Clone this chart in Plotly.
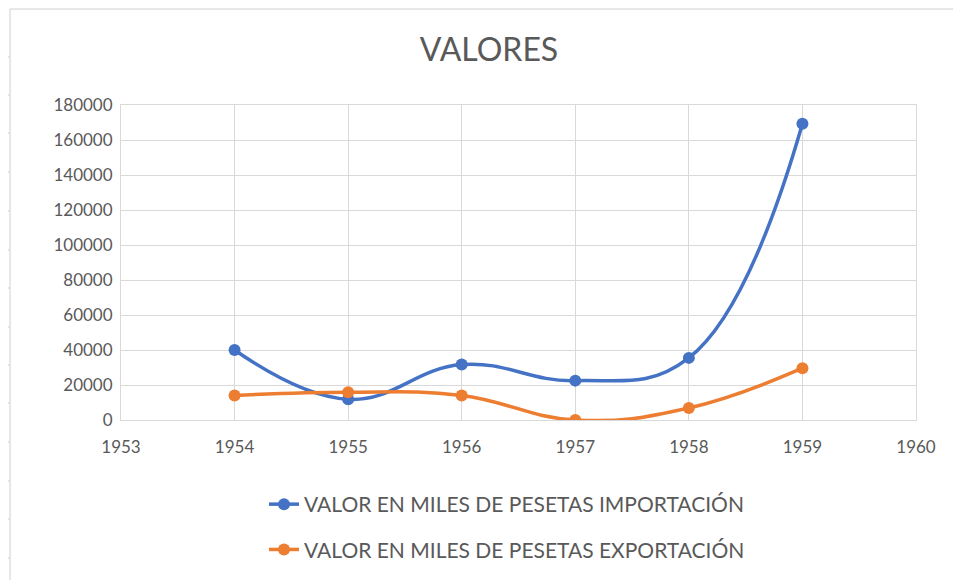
import plotly.graph_objects as go

years = [1954, 1955, 1956, 1957, 1958, 1959]
importacion = [40000, 11800, 31700, 22500, 35500, 169300]
exportacion = [14000, 15900, 14000, 0, 6900, 29600]
series_names = ["VALOR EN MILES DE PESETAS IMPORTACIÓN", "VALOR EN MILES DE PESETAS EXPORTACIÓN"]
x_ticks = [1953, 1954, 1955, 1956, 1957, 1958, 1959, 1960]
y_ticks = [0, 20000, 40000, 60000, 80000, 100000, 120000, 140000, 160000, 180000]
y_labels = ["0", "20000", "40000", "60000", "80000", "100000", "120000", "140000", "160000", "180000"]

FONT = "Lato, sans-serif"
GRAY = "#595959"
GRID = "#d9d9d9"

fig = go.Figure()
fig.add_trace(go.Scatter(x=years, y=importacion, name=series_names[0], mode="lines+markers",
                         line=dict(color="#4472C4", width=3.5, shape="spline", smoothing=1.2),
                         marker=dict(size=12, color="#4472C4"), legendgroup="a"))
fig.add_trace(go.Scatter(x=years, y=exportacion, name=series_names[1], mode="lines+markers",
                         line=dict(color="#ED7D31", width=3.5, shape="spline", smoothing=1.2),
                         marker=dict(size=12, color="#ED7D31"), legendgroup="b"))

OFF = 8  # page body margin
W, H = 961, 580
L, T = 121 - OFF, 105 - OFF
R = W - (916 - OFF)
B = H - (420 - OFF)
pw, ph = W - L - R, H - T - B

def px(xs):
    return (xs - OFF - L) / pw

def py(ys):
    return (H - B - (ys - OFF)) / ph

shapes = []
shapes.append(dict(type="line", xref="paper", yref="paper", x0=px(10), x1=px(969), y0=py(9), y1=py(9),
                   line=dict(color="#d0d0d0", width=1)))
shapes.append(dict(type="line", xref="paper", yref="paper", x0=px(10), x1=px(10), y0=py(9), y1=py(590),
                   line=dict(color="#d0d0d0", width=1)))
for yy in [57, 95, 133, 172, 211, 250, 288, 327, 365, 403, 442, 481, 519, 558]:
    shapes.append(dict(type="line", xref="paper", yref="paper", x0=px(3), x1=px(10), y0=py(yy), y1=py(yy),
                       line=dict(color="#d0d0d0", width=1)))

fig.update_layout(
    width=W, height=H,
    margin=dict(l=L, r=R, t=T, b=B),
    paper_bgcolor="white", plot_bgcolor="white",
    font=dict(family=FONT, color=GRAY, size=17),
    title=dict(text="VALORES", x=(489 - OFF) / W, xanchor="center", y=1 - (50 - OFF) / H, yanchor="middle",
               font=dict(family=FONT, size=32, color=GRAY)),
    xaxis=dict(range=[1953, 1960], tickvals=x_ticks, showgrid=True, gridcolor=GRID, gridwidth=1,
               showline=True, linecolor=GRID, mirror=True, zeroline=False,
               ticks="outside", ticklen=12, tickcolor="rgba(0,0,0,0)",
               tickfont=dict(family=FONT, size=17, color=GRAY)),
    yaxis=dict(range=[0, 180000], tickvals=y_ticks, ticktext=y_labels, showgrid=True, gridcolor=GRID,
               gridwidth=1, showline=True, linecolor=GRID, mirror=True, zeroline=False,
               ticks="outside", ticklen=4, tickcolor="rgba(0,0,0,0)",
               tickfont=dict(family=FONT, size=17, color=GRAY)),
    legend=dict(orientation="v", x=px(264), xanchor="left", y=py(484), yanchor="top",
                font=dict(family=FONT, size=21, color=GRAY), tracegroupgap=15,
                bgcolor="rgba(0,0,0,0)"),
    showlegend=True,
    shapes=shapes,
)

fig.write_html("out.html")
